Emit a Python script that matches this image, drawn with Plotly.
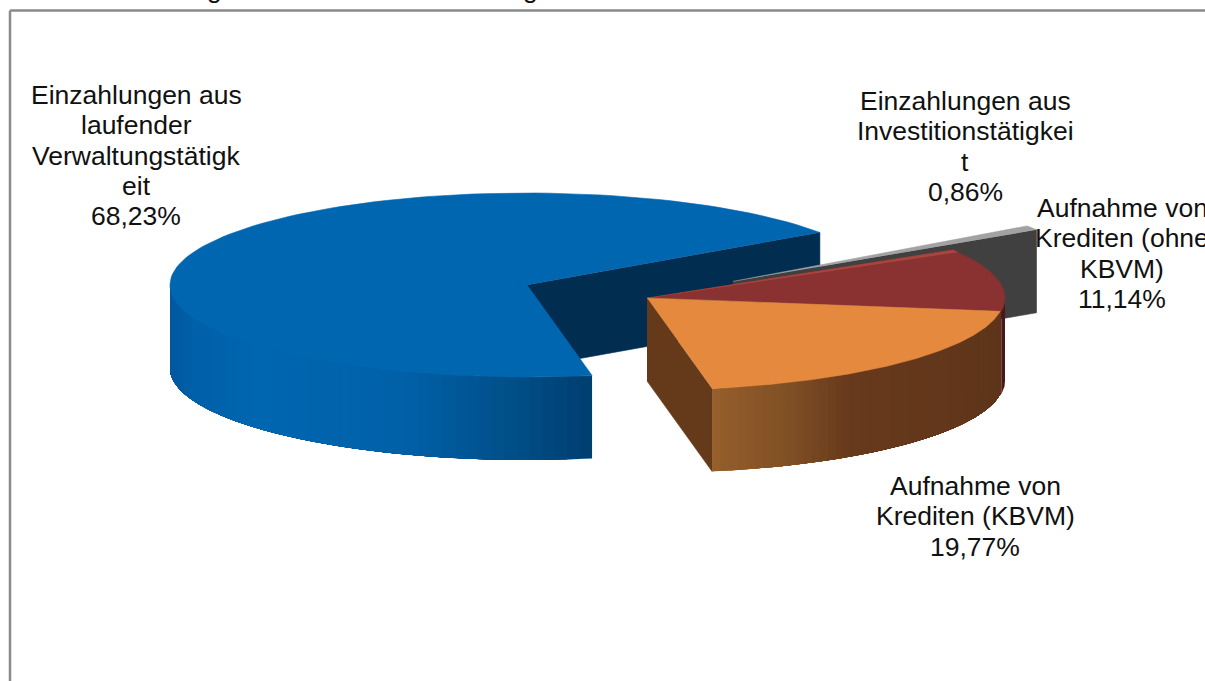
import numpy as np
import plotly.graph_objects as go

# Chart data
categories = [
    "Einzahlungen aus laufender Verwaltungstätigkeit",
    "Einzahlungen aus Investitionstätigkeit",
    "Aufnahme von Krediten (ohne KBVM)",
    "Aufnahme von Krediten (KBVM)",
]
shares = [68.23, 0.86, 11.14, 19.77]
label_lines = [
    ["Einzahlungen aus", "laufender", "Verwaltungstätigk", "eit"],
    ["Einzahlungen aus", "Investitionstätigkei", "t"],
    ["Aufnahme von", "Krediten (ohne", "KBVM)"],
    ["Aufnahme von", "Krediten (KBVM)"],
]

# Projection of the pie disc onto the page
W, H = 1205, 681
RX, RY, DEPTH = 357, 92, 83
GREY_RY = 98  # the pulled-out sliver sits nearer the viewer and looks tilted more
START_ANGLE = -79.5
CENTRES = [(527, 285), (733, 281.4), (648, 298), (647, 298)]
LABEL_TOPS = [(136, 95), (965, 101), (1122, 208), (975, 486)]
LINE_STEP = 30.3
FONT_SIZE = 26.5

TOP = ["#0066b0", "#a2a2a2", "#8a3131", "#e5893f"]
RED_EDGE = "#a8453f"
BLUE_INNER = "#002d50"
GREY_INNER = "#404040"
RED_WALL = "#4a1818"
ORANGE_INNER = "#643a1b"
BLUE_WALL = [(171, "#0058a0"), (195, "#0060a9"), (260, "#0066b0"), (400, "#0061a8"),
             (440, "#005a9e"), (510, "#004f89"), (590, "#003f70")]
ORANGE_WALL = [(710, "#975f2c"), (790, "#7f4f24"), (850, "#68391c"), (1005, "#5e351a")]

# Slices run clockwise from the start angle, sized by their share
sweeps = np.array(shares) / sum(shares) * 360
ends = START_ANGLE - np.cumsum(sweeps)
starts = ends + sweeps
bounds = list(zip(starts, ends))


def rim(centre, deg, ry=RY):
    rad = np.radians(deg)
    return centre[0] + RX * np.cos(rad), centre[1] - ry * np.sin(rad)


def arc(centre, a0, a1, n=120, ry=RY):
    return rim(centre, np.linspace(a0, a1, n), ry)


def hex_rgb(c):
    return np.array([int(c[i:i + 2], 16) for i in (1, 3, 5)], dtype=float)


def ramp(stops, x):
    xs = [s[0] for s in stops]
    cols = np.array([hex_rgb(s[1]) for s in stops])
    vals = [np.interp(x, xs, cols[:, k]) for k in range(3)]
    return "rgb(%d,%d,%d)" % tuple(round(v) for v in vals)


fig = go.Figure()


def poly(x, y, color, width=0.6):
    fig.add_trace(go.Scatter(
        x=list(x), y=list(y), mode="lines", fill="toself", fillcolor=color,
        line=dict(color=color, width=width), hoverinfo="skip", showlegend=False,
    ))


def side_face(centre, deg, color, ry=RY):
    rx, rtop = rim(centre, deg, ry)
    poly([centre[0], rx, rx, centre[0]],
         [centre[1], rtop, rtop + DEPTH, centre[1] + DEPTH], color)


def outer_wall(centre, a0, a1, stops, n=50):
    # Each strip runs on to the end of the wall, so later strips overpaint it
    # and no seams show between neighbouring colours.
    angles = np.linspace(a0, a1, n + 1)
    for i, p in enumerate(angles[:-1]):
        q = angles[i + 1]
        xa, ya = arc(centre, p, a1, 60)
        mid_x = rim(centre, (p + q) / 2)[0]
        color = ramp(stops, mid_x) if isinstance(stops, list) else stops
        poly(np.r_[xa, xa[::-1]], np.r_[ya, ya[::-1] + DEPTH], color, width=0)


def top_face(centre, a0, a1, color, ry=RY):
    xa, ya = arc(centre, a0, a1, ry=ry)
    poly(np.r_[centre[0], xa], np.r_[centre[1], ya], color)


blue, grey, red, orange = bounds

# Blue slice: inner face, then the visible front of the rim, then the top
side_face(CENTRES[0], blue[1], BLUE_INNER)
outer_wall(CENTRES[0], blue[0], -180, BLUE_WALL)
top_face(CENTRES[0], blue[0], blue[1], TOP[0])

# Thin investment slice sits behind the red one
side_face(CENTRES[1], grey[1], GREY_INNER, GREY_RY)
top_face(CENTRES[1], grey[0], grey[1], TOP[1], GREY_RY)

# Red slice with its lit leading edge; only the part of its rim below the
# widest point of the disc faces the viewer
outer_wall(CENTRES[2], red[1], -360, RED_WALL, n=2)
top_face(CENTRES[2], red[0], red[1], TOP[2])
top_face(CENTRES[2], red[0], red[0] - 2.0, RED_EDGE)

# Orange slice in front
side_face(CENTRES[3], orange[1], ORANGE_INNER)
outer_wall(CENTRES[3], orange[1], orange[0], ORANGE_WALL)
top_face(CENTRES[3], orange[0], orange[1], TOP[3])

# Slice labels, each closed by its percentage
annotations = []
for lines, share, (cx, top) in zip(label_lines, shares, LABEL_TOPS):
    pct = f"{share:.2f}".replace(".", ",") + "%"
    for i, line in enumerate(lines + [pct]):
        annotations.append(dict(
            x=cx, y=top + i * LINE_STEP, xref="x", yref="y", text=line,
            showarrow=False, align="center", xanchor="center", yanchor="middle",
            font=dict(family="Liberation Sans", size=FONT_SIZE, color="#111111"),
        ))

# Descenders of the heading line running off the top of the page
for gx in (214, 530):
    annotations.append(dict(
        x=gx / W, y=1, xref="paper", yref="paper", text="g", showarrow=False,
        xanchor="center", yanchor="bottom", yshift=-6,
        font=dict(family="Liberation Sans", size=FONT_SIZE, color="#111111"),
    ))

# Frame of the chart area, open towards the right and bottom page edges
frame = dict(color="#8a8a8a", width=2.5)
shapes = [
    dict(type="line", xref="x", yref="y", x0=10, x1=10, y0=10.5, y1=H, line=frame),
    dict(type="line", xref="x", yref="y", x0=10, x1=W, y0=10.5, y1=10.5, line=frame),
]

fig.update_layout(
    width=W, height=H, margin=dict(l=0, r=0, t=0, b=0),
    paper_bgcolor="white", plot_bgcolor="white", showlegend=False,
    xaxis=dict(range=[0, W], visible=False, fixedrange=True),
    yaxis=dict(range=[H, 0], visible=False, fixedrange=True),
    annotations=annotations, shapes=shapes,
)

fig.write_html("out.html", config=dict(displayModeBar=False))
